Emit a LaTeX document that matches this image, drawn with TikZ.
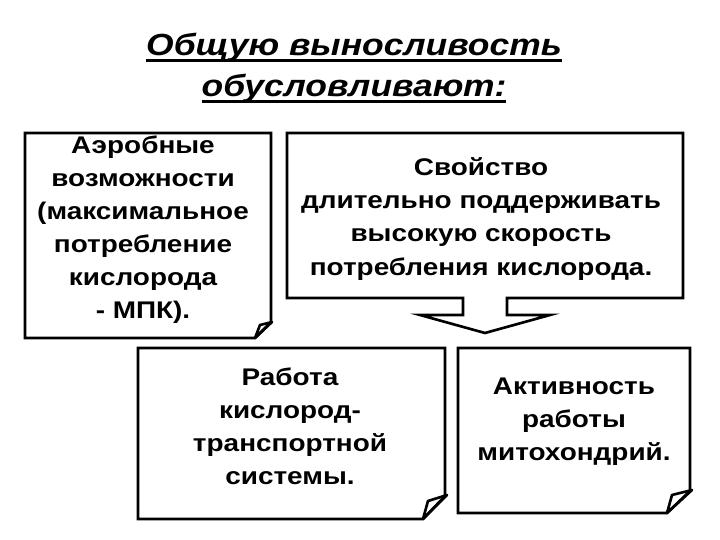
\documentclass[tikz,border=0pt]{standalone}
\usepackage{fontspec}
\setmainfont[FakeStretch=1.16]{Liberation Sans}
\newcommand{\titleline}[1]{\leavevmode\setbox0\hbox{#1}\rlap{\rule[-3.9pt]{\wd0}{1.7pt}}\box0}
\begin{document}
\begin{tikzpicture}[x=0.02cm, y=-0.02cm,
  box/.style={draw, line width=1.5pt, line join=miter},
  flap/.style={draw, line width=1.5pt, line join=round},
  txt/.style={align=center, inner sep=0pt, font=\fontsize{13.7pt}{18.8pt}\selectfont\bfseries}]
  \useasboundingbox (0,0) rectangle (720,540);

  % title
  \node[align=center, font=\fontsize{17.4pt}{23.5pt}\selectfont\bfseries\itshape] (title) at (354,68)
    {\titleline{Общую выносливость}\\\titleline{обусловливают:}};

  % aerobic box
  \draw[box] (25,133) -- (271,133) -- (271,322) -- (255,338) -- (25,338) -- cycle;
  \draw[flap] (255,338) -- (260,325) -- (272,322) -- cycle;
  \node[txt] (aer) at (143,230) {Аэробные\\возможности\\(максимальное\\потребление\\кислорода\\ - МПК).};

  % property box with arrow
  \draw[box] (287,133) -- (683,133) -- (683,298) -- (507,298) -- (507,315) -- (550,315)
    -- (485,333) -- (420,315) -- (463,315) -- (463,298) -- (287,298) -- cycle;
  \node[txt] (prop) at (481,219) {Свойство\\длительно поддерживать\\высокую скорость\\потребления кислорода.};

  % transport box
  \draw[box] (138,348) -- (445,348) -- (445,496) -- (423,519) -- (138,519) -- cycle;
  \draw[flap] (423,519) -- (428,501) -- (447,495) -- cycle;
  \node[txt] (trans) at (290,426) {Работа\\кислород-\\транспортной\\системы.};

  % mitochondria box
  \draw[box] (458,348) -- (690,348) -- (690,491) -- (667,513) -- (458,513) -- cycle;
  \node[txt] (mito) at (574,422) {Активность\\работы\\митохондрий.};
  \draw[flap] (667,513) -- (672,495) -- (692,490) -- cycle;
\end{tikzpicture}
\end{document}
